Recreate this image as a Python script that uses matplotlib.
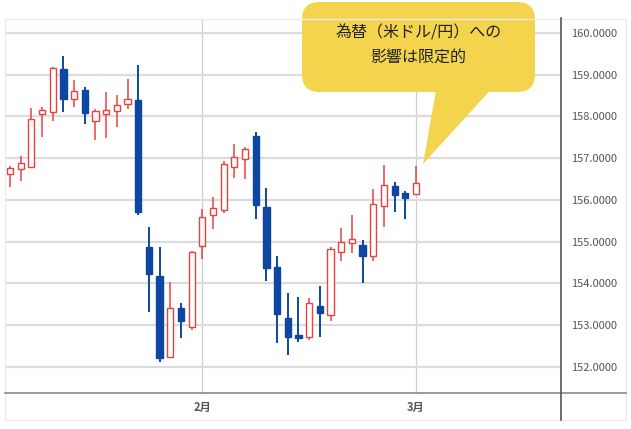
import numpy as np
import pandas as pd
import matplotlib
matplotlib.use('Agg')
import matplotlib.pyplot as plt
from matplotlib.patches import Rectangle, FancyBboxPatch, Polygon
from matplotlib.lines import Line2D

plt.rcParams['font.family'] = ['Noto Sans CJK JP', 'DejaVu Sans']

# 営業日（1月8日〜3月3日）
dates = pd.bdate_range('2025-01-08', '2025-03-03')

opens = [156.62, 156.74, 156.80, 158.05, 158.10, 159.13, 158.41, 158.63, 157.89, 158.06,
         158.13, 158.30, 158.40, 154.87, 154.19, 152.25, 153.41, 152.95, 154.90, 155.64,
         155.76, 156.80, 156.98, 157.53, 155.84, 154.40, 153.18, 152.77, 152.73, 153.47,
         153.25, 154.76, 154.97, 154.92, 154.66, 155.86, 156.34, 156.16, 156.14]
highs = [156.81, 157.05, 158.20, 158.22, 159.18, 159.46, 158.87, 158.70, 158.17, 158.59,
         158.51, 158.89, 159.23, 155.36, 154.88, 154.04, 153.54, 154.79, 155.78, 156.08,
         156.94, 157.33, 157.28, 157.64, 156.28, 154.66, 153.77, 153.68, 153.65, 153.94,
         154.87, 155.34, 155.64, 155.04, 156.26, 156.84, 156.44, 156.22, 156.81]
lows = [156.32, 156.46, 156.78, 157.52, 157.90, 158.11, 158.22, 157.82, 157.44, 157.48,
        157.76, 158.17, 155.64, 153.31, 152.11, 152.23, 152.69, 152.89, 154.58, 155.30,
        155.68, 156.53, 156.50, 155.54, 154.06, 152.57, 152.29, 152.61, 152.65, 152.73,
        153.09, 154.55, 154.72, 154.00, 154.55, 155.36, 155.71, 155.54, 156.12]
closes = [156.76, 156.88, 157.93, 158.16, 159.17, 158.41, 158.61, 158.08, 158.13, 158.16,
          158.28, 158.42, 155.72, 154.23, 152.21, 153.41, 153.10, 154.76, 155.60, 155.80,
          156.86, 157.04, 157.21, 155.88, 154.38, 153.27, 152.73, 152.69, 153.53, 153.29,
          154.83, 154.99, 155.07, 154.66, 155.90, 156.36, 156.12, 156.04, 156.41]

y_ticks = [152, 153, 154, 155, 156, 157, 158, 159, 160]
note = '為替（米ドル/円）への\n影響は限定的'

UP = '#e8433f'
DOWN = '#0d47a1'
W, H = 631, 429


def fx(x):
    return x / W


def fy(y):
    return 1 - y / H


fig = plt.figure(figsize=(6.31, 4.29), dpi=100)
ax = fig.add_axes([fx(5), fy(393), fx(560) - fx(5), fy(19) - fy(393)])

idx = np.arange(len(dates))
body_w = 0.58
for i, o, h, l, c in zip(idx, opens, highs, lows, closes):
    col = UP if c >= o else DOWN
    ax.vlines(i, l, h, color=col, lw=1.1 if c >= o else 1.4, zorder=2)
    if c >= o:
        ax.add_patch(Rectangle((i - body_w / 2, o), body_w, c - o,
                               facecolor='white', edgecolor=col, lw=1.0, zorder=3))
    else:
        ax.add_patch(Rectangle((i - body_w / 2, c), body_w, o - c,
                               facecolor=col, edgecolor=col, lw=1.0, zorder=3))

ax.set_xlim(-0.47, 51.48)
ax.set_ylim(151.377, 160.335)

# 月初に目盛り
month_pos = [i for i in range(1, len(dates)) if dates[i].month != dates[i - 1].month]
ax.set_xticks(month_pos)
ax.set_xticklabels([f'{dates[i].month}月' for i in month_pos],
                   fontsize=8, fontweight='bold', color='#555555')
ax.set_yticks(y_ticks)
ax.set_yticklabels([f'{v:.4f}' for v in y_ticks], fontsize=8, color='#555555')
ax.yaxis.tick_right()
ax.tick_params(axis='y', length=0, pad=8)
ax.tick_params(axis='x', length=0, pad=6)

ax.grid(axis='y', color='#dcdcdc', lw=1.6)
ax.grid(axis='x', color='#cfcfcf', lw=0.9)
ax.set_axisbelow(True)
for s in ax.spines.values():
    s.set_visible(False)

# 枠線
fig.add_artist(Line2D([fx(5), fx(5), fx(626), fx(626), fx(5)],
                      [fy(19), fy(420), fy(420), fy(19), fy(19)],
                      color='#ececec', lw=1.0))
fig.add_artist(Line2D([fx(5), fx(626)], [fy(393), fy(393)], color='#8a8a8a', lw=1.2))
fig.add_artist(Line2D([fx(560.5), fx(560.5)], [fy(18), fy(420)], color='#555555', lw=1.2))

# 吹き出し
yellow = '#f4d44c'
fig.add_artist(Polygon([(fx(437), fy(85)), (fx(495), fy(85)), (fx(423), fy(164))],
                       closed=True, facecolor=yellow, edgecolor='none'))
fig.add_artist(FancyBboxPatch((fx(302), fy(92)), fx(535) - fx(302), fy(2) - fy(92),
                              boxstyle='round,pad=0,rounding_size=0.028',
                              facecolor=yellow, edgecolor='none',
                              transform=fig.transFigure,
                              mutation_aspect=W / H))
fig.text(fx(418.5), fy(45.5), note, ha='center', va='center', fontsize=11.5,
         color='#222222', linespacing=1.55)

fig.savefig('out.png', dpi=100)
